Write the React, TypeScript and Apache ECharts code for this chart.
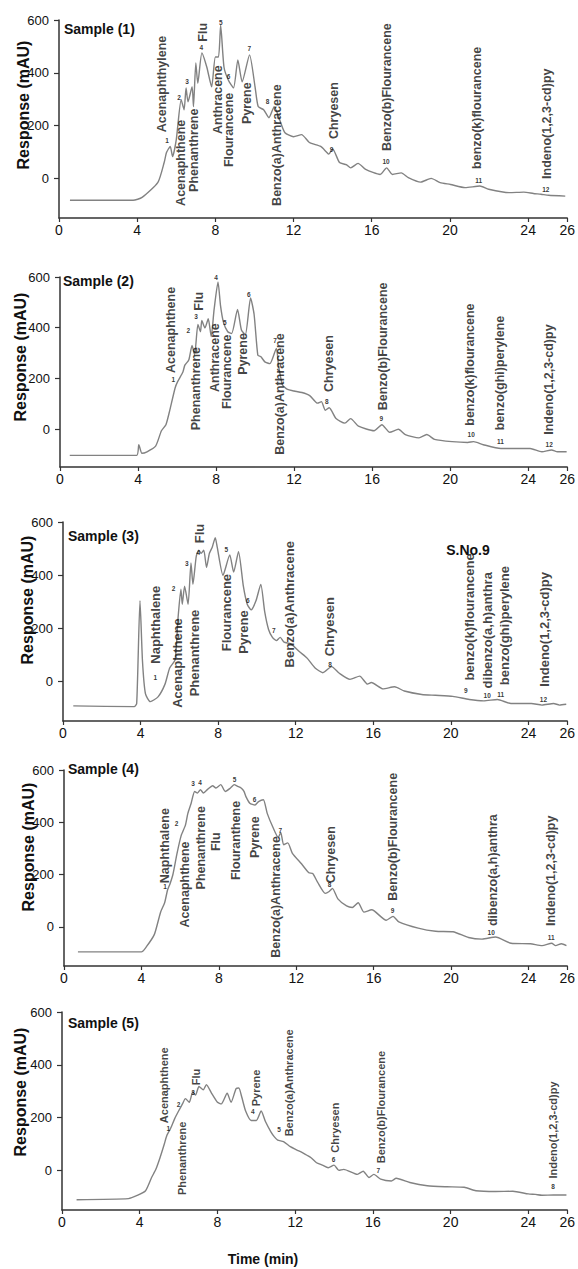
import React, { useEffect, useRef } from "react";
import * as echarts from "echarts";

const xTickValues = [0, 4, 8, 12, 16, 20, 24, 26];
const yTickValues = [0, 200, 400, 600];
const sampleTitles = ["Sample (1)", "Sample (2)", "Sample (3)", "Sample (4)", "Sample (5)"];
const yAxisTitle = "Response (mAU)";
const xAxisTitle = "Time (min)";
const sample3Note = "S.No.9";

// [time (min), response (mAU)]
const sample1Trace = [
  [0.56, -83], [3.79, -83], [4.25, -72], [5.06, -15], [5.38, 60], [5.5, 98], [5.69, 121], [5.81, 83],
  [6.0, 147], [6.25, 298], [6.4, 260], [6.5, 343], [6.6, 290], [6.81, 347], [6.88, 272], [7.0, 437],
  [7.1, 360], [7.31, 475], [7.56, 422], [7.81, 347], [8.0, 460], [8.16, 460], [8.27, 580], [8.44, 422],
  [8.66, 373], [8.93, 343], [9.15, 449], [9.37, 366], [9.75, 468], [10.03, 347], [10.19, 272], [10.47, 260],
  [10.74, 230], [11.01, 272], [11.29, 222], [11.56, 173], [12.0, 158], [12.41, 166], [12.81, 136], [13.39, 121],
  [13.68, 100], [13.8, 92], [14.0, 112], [14.35, 60], [14.7, 52], [14.92, 40], [15.3, 57], [15.69, 34],
  [16.43, 15], [16.76, 40], [17.06, 15], [17.51, 21], [17.87, 3], [18.5, -14], [19.04, 0], [19.5, -16],
  [20.03, -23], [20.78, -35], [21.53, -29], [21.98, -41], [23.03, -54], [23.78, -52], [24.27, -57],
  [24.66, -60], [25.05, -64], [25.9, -67],
];

const sample2Trace = [
  [0.5, -104], [3.93, -104], [4.04, -62], [4.2, -96], [4.46, -90], [4.9, -68], [5.2, -7], [5.43, 17],
  [5.6, 65], [5.9, 162], [6.03, 187], [6.3, 225], [6.4, 252], [6.6, 272], [6.77, 330], [6.9, 292],
  [7.07, 413], [7.2, 384], [7.27, 428], [7.43, 399], [7.6, 435], [7.75, 365], [7.9, 472], [8.1, 580],
  [8.23, 486], [8.38, 421], [8.6, 384], [8.8, 377], [9.1, 472], [9.3, 391], [9.5, 372], [9.77, 517],
  [9.95, 452], [10.14, 292], [10.3, 285], [10.5, 265], [10.76, 258], [11.09, 318], [11.2, 252], [11.4, 175],
  [11.66, 156], [12.0, 150], [12.4, 144], [12.8, 132], [13.2, 102], [13.4, 108], [13.6, 74], [13.8, 84],
  [14.15, 41], [14.6, 23], [14.9, 41], [15.3, 11], [16.1, -7], [16.5, 17], [16.9, -13], [17.35, -1],
  [17.7, -22], [18.4, -35], [18.8, -22], [19.2, -41], [20.1, -50], [20.9, -53], [21.2, -50], [21.7, -62],
  [22.6, -77], [23.2, -77], [24.1, -77], [24.7, -90], [25.2, -83], [25.5, -90], [25.97, -90],
];

const sample3Trace = [
  [0.53, -93], [3.67, -96], [3.8, -84], [3.97, 303], [4.1, 74], [4.25, -47], [4.5, -77], [4.9, -59],
  [5.26, -11], [5.5, 50], [5.78, 80], [5.93, 236], [6.08, 347], [6.15, 290], [6.27, 358], [6.45, 290],
  [6.6, 446], [6.7, 365], [6.87, 470], [7.0, 494], [7.13, 482], [7.26, 494], [7.4, 429], [7.55, 482],
  [7.7, 506], [7.85, 541], [7.95, 506], [8.25, 399], [8.6, 476], [8.8, 411], [9.05, 488], [9.3, 358],
  [9.5, 290], [9.7, 269], [9.95, 303], [10.2, 365], [10.4, 262], [10.6, 195], [10.8, 165], [11.0, 153],
  [11.2, 165], [11.4, 147], [11.75, 141], [12.2, 111], [12.6, 86], [13.0, 50], [13.4, 32], [13.85, 55],
  [14.25, 30], [14.8, 7], [15.3, 19], [15.7, -11], [15.9, -5], [16.5, -29], [17.1, -21], [17.6, -37],
  [18.5, -50], [19.2, -53], [20.1, -57], [20.95, -69], [21.7, -74], [22.4, -69], [23.1, -84], [24.15, -84],
  [24.7, -90], [25.3, -84], [25.6, -90], [25.95, -87],
];

const sample4Trace = [
  [0.72, -96], [4.0, -96], [4.25, -77], [4.67, -29], [4.99, 56], [5.2, 92], [5.35, 141], [5.48, 165],
  [5.63, 201], [5.84, 281], [6.05, 348], [6.27, 388], [6.4, 434], [6.57, 473], [6.75, 518], [6.9, 512],
  [7.05, 525], [7.2, 512], [7.43, 527], [7.68, 540], [7.85, 531], [8.1, 544], [8.33, 518], [8.6, 531],
  [8.8, 544], [8.95, 538], [9.15, 531], [9.3, 518], [9.4, 498], [9.6, 473], [9.87, 466], [10.05, 479],
  [10.3, 486], [10.5, 434], [10.8, 380], [11.07, 342], [11.2, 361], [11.35, 314], [11.56, 321], [11.8, 281],
  [12.27, 241], [12.65, 207], [12.85, 204], [13.1, 171], [13.5, 128], [13.7, 135], [13.87, 147], [14.15, 107],
  [14.6, 80], [14.9, 74], [15.2, 92], [15.5, 56], [15.9, 65], [16.65, 25], [17.0, 40], [17.3, 19],
  [18.3, -5], [19.2, -17], [20.1, -19], [20.9, -41], [21.6, -47], [22.3, -39], [23.1, -63], [24.1, -65],
  [24.7, -72], [25.2, -63], [25.4, -72], [25.7, -65], [25.96, -72],
];

const sample5Trace = [
  [0.75, -111], [3.42, -107], [3.87, -95], [4.3, -77], [4.61, -27], [4.83, 4], [5.04, 47], [5.25, 96],
  [5.4, 133], [5.58, 158], [5.8, 196], [5.98, 222], [6.2, 252], [6.35, 272], [6.55, 258], [6.73, 298],
  [6.87, 285], [7.05, 318], [7.27, 305], [7.43, 325], [7.7, 292], [8.0, 258], [8.2, 252], [8.5, 292],
  [8.7, 258], [8.96, 310], [9.1, 312], [9.25, 278], [9.45, 225], [9.74, 189], [10.0, 189], [10.25, 225],
  [10.47, 185], [10.75, 146], [10.93, 127], [11.1, 115], [11.4, 109], [11.75, 90], [12.07, 78], [12.5, 62],
  [12.8, 49], [13.1, 29], [13.4, 20], [13.7, 10], [14.0, 20], [14.25, 0], [14.5, 4], [15.2, -15],
  [15.5, -3], [15.8, -27], [16.05, -15], [16.4, -33], [16.95, -40], [17.2, -30], [17.9, -46], [18.8, -58],
  [19.8, -62], [20.7, -64], [21.3, -77], [22.3, -80], [23.2, -79], [24.0, -89], [24.36, -91], [24.7, -94],
  [25.3, -93], [25.96, -93],
];

// [compound name, retention time (min), response where the label starts]
const sample1Peaks = [
  ["Acenaphthylene", 5.31, 173], ["Acenaphthene", 6.25, -106], ["Phenanthrene", 6.94, -53], ["Flu", 7.38, 516],
  ["Anthracene", 8.16, 166], ["Flourancene", 8.71, 41], ["Pyrene", 9.64, 204], ["Benzo(a)Anthracene", 11.18, -106],
  ["Chryesen", 14.09, 147], ["Benzo(b)Flourancene", 16.81, 102], ["benzo(k)flourancene", 21.39, 34],
  ["Indeno(1,2,3-cd)py", 25.0, -4],
];
const sample2Peaks = [
  ["Acenaphthene", 5.7, 219], ["Phenanthrene", 6.98, -7], ["Flu", 7.15, 465], ["Anthracene", 7.95, 144],
  ["Flourancene", 8.6, 77], ["Pyrene", 9.4, 212], ["Benzo(a)Anthracene", 11.3, -104], ["Chryesen", 13.8, 144],
  ["Benzo(b)Flourancene", 16.6, 72], ["benzo(k)flourancene", 21.05, 11], ["benzo(ghi)perylene", 22.6, -7],
  ["Indeno(1,2,3-cd)py", 25.1, -25],
];
const sample3Peaks = [
  ["Naphthalene", 4.78, 64], ["Acenaphthene", 5.95, -102], ["Phenanthrene", 6.79, -59], ["Flu", 7.05, 518],
  ["Flourancene", 8.45, 111], ["Pyrene", 9.33, 102], ["Benzo(a)Anthracene", 11.7, 50], ["Chryesen", 13.78, 92],
  ["benzo(k)flourancene", 21.0, 1], ["dibenzo(a,h)anthra", 21.9, -29], ["benzo(ghi)perylene", 22.8, -17],
  ["Indeno(1,2,3-cd)py", 24.83, -23],
];
const sample4Peaks = [
  ["Naphthalene", 5.25, 165], ["Acenaphthene", 6.27, -5], ["Phenanthrene", 7.1, 141], ["Flu", 7.9, 288],
  ["Flouranthene", 8.9, 177], ["Pyrene", 9.87, 261], ["Benzo(a)Anthracene", 11.0, -120], ["Chryesen", 13.83, 165],
  ["Benzo(b)Flourancene", 17.0, 98], ["dibenzo(a,h)anthra", 22.2, 1], ["Indeno(1,2,3-cd)py", 25.2, 1],
];
const sample5Peaks = [
  ["Acenaphthene", 5.25, 177], ["Phenanthrene", 6.2, -95], ["Flu", 6.9, 321], ["Pyrene", 10.0, 241],
  ["Benzo(a)Anthracene", 11.7, 127], ["Chryesen", 14.1, 65], ["Benzo(b)Flourancene", 16.45, 25],
  ["Indeno(1,2,3-cd)py", 25.3, -33],
];

// [peak number, time, response]
const sample1Numbers = [
  ["1", 5.56, 141], ["2", 6.17, 304], ["3", 6.58, 367], ["4", 7.31, 493], ["5", 8.3, 589], ["6", 8.7, 383],
  ["7", 9.76, 489], ["8", 10.7, 289], ["9", 13.97, 107], ["10", 16.76, 61], ["11", 21.5, -10], ["12", 24.93, -44],
];
const sample2Numbers = [
  ["1", 5.83, 192], ["2", 6.6, 385], ["3", 7.0, 442], ["4", 8.02, 595], ["5", 8.47, 420], ["6", 9.7, 529],
  ["7", 11.05, 348], ["8", 13.7, 107], ["9", 16.5, 41], ["10", 21.1, -25], ["11", 22.6, -50], ["12", 25.1, -62],
];
const sample3Numbers = [
  ["1", 4.78, 13], ["2", 5.73, 347], ["3", 6.41, 440], ["4", 7.0, 484], ["5", 8.45, 494], ["6", 9.56, 303],
  ["7", 10.9, 188], ["8", 13.8, 62], ["9", 20.8, -37], ["10", 21.9, -57], ["11", 22.6, -53], ["12", 24.8, -69],
];
const sample4Numbers = [
  ["1", 5.25, 153], ["2", 5.84, 395], ["3", 6.7, 545], ["4", 7.05, 552], ["5", 8.84, 562], ["6", 9.87, 485],
  ["7", 11.2, 368], ["8", 13.75, 161], ["9", 17.0, 62], ["10", 22.1, -23], ["11", 25.2, -41],
];
const sample5Numbers = [
  ["1", 5.5, 158], ["2", 6.03, 248], ["3", 6.77, 295], ["4", 9.85, 222], ["5", 11.2, 152], ["6", 14.0, 41],
  ["7", 16.3, -3], ["8", 25.3, -62],
];

const traces = [sample1Trace, sample2Trace, sample3Trace, sample4Trace, sample5Trace];
const peakSets = [sample1Peaks, sample2Peaks, sample3Peaks, sample4Peaks, sample5Peaks];
const numberSets = [sample1Numbers, sample2Numbers, sample3Numbers, sample4Numbers, sample5Numbers];

// layout (pixels)
const GRIDS = [
  { left: 59, right: 7, top: 20, height: 198 },
  { left: 60, right: 9, top: 277, height: 190 },
  { left: 63, right: 9, top: 522, height: 199 },
  { left: 64, right: 8, top: 770, height: 196 },
  { left: 62, right: 5, top: 1012, height: 198 },
];
const TITLE_POS = [[64, 29], [63, 281], [68, 536], [68, 769], [68, 1023]];
const YNAME_POS = [[23, 105], [20, 357], [27, 600], [28, 847], [20, 1092]];
const LABEL_SIZE = [12.5, 12.5, 13, 12.5, 11];

const FONT = "'Liberation Sans', Arial, Helvetica, sans-serif";
const INK = "#111111";
const AXIS = "#333333";

function buildOption() {
  const grid = GRIDS.map((g) => ({ ...g }));
  const xAxis = GRIDS.map((_, i) => ({
    type: "value",
    gridIndex: i,
    min: 0,
    max: 26,
    axisLine: { show: true, onZero: false, lineStyle: { color: AXIS, width: 1.5 } },
    axisTick: { show: true, customValues: xTickValues, length: 4, lineStyle: { color: AXIS, width: 1.2 } },
    axisLabel: { customValues: xTickValues, fontSize: 14, color: INK, margin: 5, fontFamily: FONT },
    splitLine: { show: false },
  }));
  const yAxis = GRIDS.map((_, i) => ({
    type: "value",
    gridIndex: i,
    min: -150,
    max: 600,
    axisLine: { show: true, onZero: false, lineStyle: { color: AXIS, width: 1.5 } },
    axisTick: { show: true, customValues: yTickValues, length: 5, lineStyle: { color: AXIS, width: 1.2 } },
    axisLabel: { customValues: yTickValues, fontSize: 13, color: INK, margin: 10, fontFamily: FONT },
    splitLine: { show: false },
  }));

  const series: any[] = [];
  traces.forEach((trace, i) => {
    series.push({
      type: "line",
      xAxisIndex: i,
      yAxisIndex: i,
      data: trace,
      showSymbol: false,
      symbol: "none",
      smooth: 0.2,
      lineStyle: { color: "#828282", width: 1.4 },
      silent: true,
      z: 2,
    });
    series.push({
      type: "scatter",
      xAxisIndex: i,
      yAxisIndex: i,
      symbolSize: 1,
      itemStyle: { color: "rgba(0,0,0,0)" },
      silent: true,
      z: 3,
      data: peakSets[i].map((p) => ({ name: p[0], value: [p[1], p[2]] })),
      label: {
        show: true,
        formatter: "{b}",
        position: [0, 0],
        rotate: 90,
        align: "left",
        verticalAlign: "middle",
        fontSize: LABEL_SIZE[i],
        fontWeight: "bold",
        color: INK,
        fontFamily: FONT,
      },
    });
    series.push({
      type: "scatter",
      xAxisIndex: i,
      yAxisIndex: i,
      symbolSize: 1,
      itemStyle: { color: "rgba(0,0,0,0)" },
      silent: true,
      z: 3,
      data: numberSets[i].map((p) => ({ name: p[0], value: [p[1], p[2]] })),
      label: {
        show: true,
        formatter: "{b}",
        position: [0, 0],
        align: "center",
        verticalAlign: "middle",
        fontSize: 6.5,
        fontWeight: "bold",
        color: "#000000",
        fontFamily: FONT,
      },
    });
  });

  const graphic: any[] = [];
  sampleTitles.forEach((t, i) => {
    graphic.push({
      type: "text",
      x: TITLE_POS[i][0],
      y: TITLE_POS[i][1],
      silent: true,
      style: {
        text: t, fontSize: 14, fontWeight: "bold", fontFamily: FONT, fill: INK,
        align: "left", verticalAlign: "middle", textAlign: "left", textVerticalAlign: "middle",
      },
    });
    graphic.push({
      type: "text",
      x: YNAME_POS[i][0],
      y: YNAME_POS[i][1],
      rotation: Math.PI / 2,
      silent: true,
      style: {
        text: yAxisTitle, fontSize: 16, fontWeight: "bold", fontFamily: FONT, fill: INK,
        align: "center", verticalAlign: "middle", textAlign: "center", textVerticalAlign: "middle",
      },
    });
  });
  graphic.push({
    type: "text",
    x: 263,
    y: 1259,
    silent: true,
    style: {
      text: xAxisTitle, fontSize: 14, fontWeight: "bold", fontFamily: FONT, fill: INK,
      align: "center", verticalAlign: "middle", textAlign: "center", textVerticalAlign: "middle",
    },
  });
  graphic.push({
    type: "text",
    x: 468,
    y: 550,
    silent: true,
    style: {
      text: sample3Note, fontSize: 14, fontWeight: "bold", fontFamily: FONT, fill: INK,
      align: "center", verticalAlign: "middle", textAlign: "center", textVerticalAlign: "middle",
    },
  });

  return {
    animation: false,
    backgroundColor: "#ffffff",
    grid,
    xAxis,
    yAxis,
    series,
    graphic,
  };
}

export default function App() {
  const ref = useRef<HTMLDivElement | null>(null);
  useEffect(() => {
    if (!ref.current) return;
    const chart = echarts.init(ref.current, undefined, { renderer: "svg" });
    chart.setOption(buildOption() as any);
    return () => chart.dispose();
  }, []);
  return (
    <div
      ref={ref}
      style={{ position: "absolute", left: 0, top: 0, width: 578, height: 1269, background: "#fff" }}
    />
  );
}
